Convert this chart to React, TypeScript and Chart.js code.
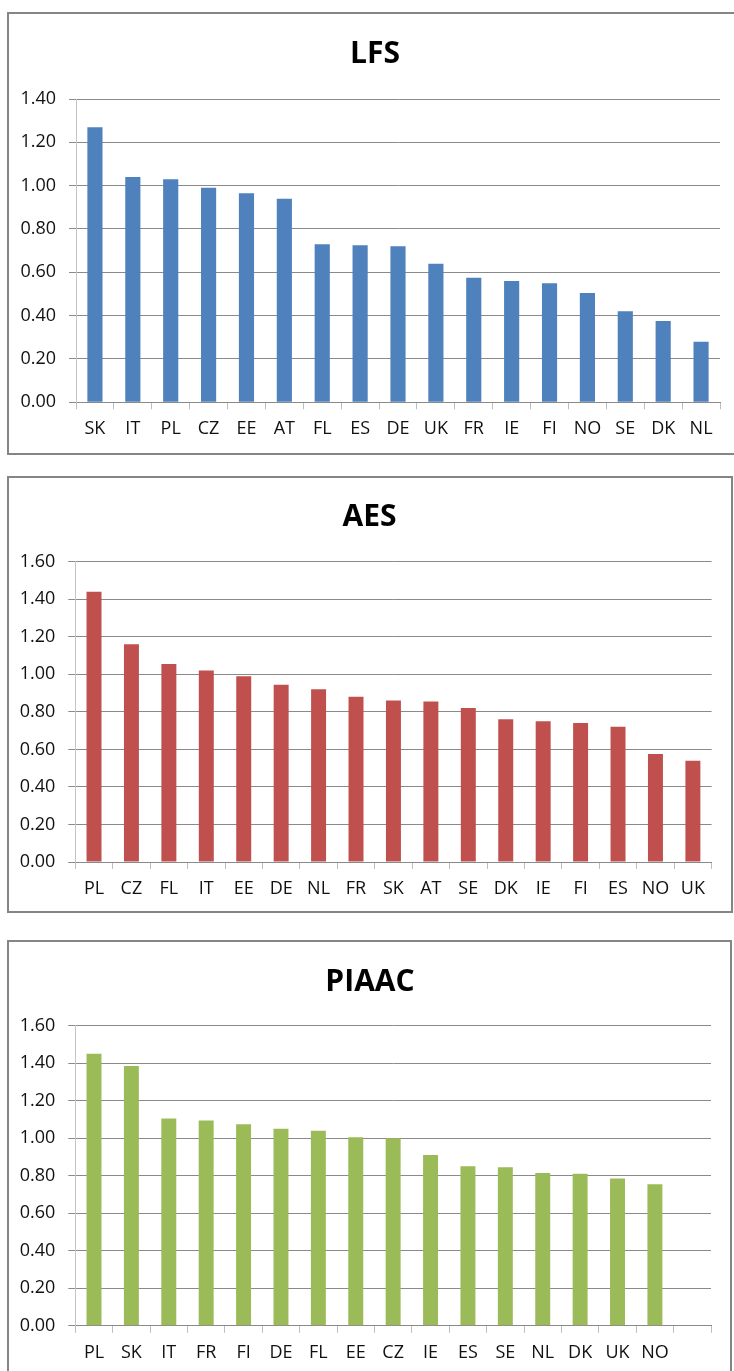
import React, { useEffect, useRef } from "react";
import { Chart, registerables } from "chart.js";

Chart.register(...registerables);
Chart.defaults.font.family = '"Open Sans", "Noto Sans", sans-serif';

// ---- Data ----
const lfsLabels = ["SK", "IT", "PL", "CZ", "EE", "AT", "FL", "ES", "DE", "UK", "FR", "IE", "FI", "NO", "SE", "DK", "NL"];
const lfsValues = [1.27, 1.04, 1.03, 0.99, 0.965, 0.94, 0.73, 0.725, 0.72, 0.64, 0.575, 0.56, 0.55, 0.505, 0.42, 0.375, 0.28];

const aesLabels = ["PL", "CZ", "FL", "IT", "EE", "DE", "NL", "FR", "SK", "AT", "SE", "DK", "IE", "FI", "ES", "NO", "UK"];
const aesValues = [1.44, 1.16, 1.055, 1.02, 0.99, 0.945, 0.92, 0.88, 0.86, 0.855, 0.82, 0.76, 0.75, 0.74, 0.72, 0.575, 0.54];

const piaacLabels = ["PL", "SK", "IT", "FR", "FI", "DE", "FL", "EE", "CZ", "IE", "ES", "SE", "NL", "DK", "UK", "NO", ""];
const piaacValues = [1.45, 1.385, 1.105, 1.095, 1.075, 1.05, 1.04, 1.005, 1.0, 0.91, 0.85, 0.845, 0.815, 0.81, 0.785, 0.755, null];

const lfsAxisMax = 1.4;
const aesAxisMax = 1.6;
const piaacAxisMax = 1.6;
const axisStep = 0.2;

// ---- Layout ----
const PAGE_W = 734;
const X_AXIS_H = 40;
const LABEL_SIZE = 18;

type Panel = {
  title: string;
  labels: string[];
  values: (number | null)[];
  color: string;
  yMax: number;
  box: { top: number; width: number; height: number };
  canvasTop: number;
  canvasHeight: number;
  plotTop: number;
  plotBottom: number;
  plotLeft: number;
  plotRight: number;
  titleX: number;
  titleY: number;
};

const panels: Panel[] = [
  {
    title: "LFS",
    labels: lfsLabels,
    values: lfsValues,
    color: "#4f81bd",
    yMax: lfsAxisMax,
    box: { top: 12, width: 740, height: 443 },
    canvasTop: 0,
    canvasHeight: 460,
    plotTop: 99,
    plotBottom: 402.3,
    plotLeft: 76,
    plotRight: 720,
    titleX: 375,
    titleY: 54,
  },
  {
    title: "AES",
    labels: aesLabels,
    values: aesValues,
    color: "#c0504d",
    yMax: aesAxisMax,
    box: { top: 476, width: 726, height: 437 },
    canvasTop: 470,
    canvasHeight: 450,
    plotTop: 561.7,
    plotBottom: 862,
    plotLeft: 75.3,
    plotRight: 711.6,
    titleX: 369.5,
    titleY: 517.5,
  },
  {
    title: "PIAAC",
    labels: piaacLabels,
    values: piaacValues,
    color: "#9bbb59",
    yMax: piaacAxisMax,
    box: { top: 940, width: 725, height: 440 },
    canvasTop: 930,
    canvasHeight: 441,
    plotTop: 1025.7,
    plotBottom: 1325.7,
    plotLeft: 75.3,
    plotRight: 711,
    titleX: 370,
    titleY: 982.5,
  },
];

// Draws the bold heading of each panel at a fixed spot
const panelTitle = {
  id: "panelTitle",
  afterDraw(chart: any, _args: any, opts: any) {
    const { ctx } = chart;
    ctx.save();
    ctx.font = 'bold 30px "Open Sans", sans-serif';
    ctx.fillStyle = "#000000";
    ctx.textAlign = "center";
    ctx.textBaseline = "middle";
    ctx.fillText(opts.text, opts.x, opts.y);
    ctx.restore();
  },
};

function BarPanel({ p }: { p: Panel }) {
  const ref = useRef<HTMLCanvasElement | null>(null);

  useEffect(() => {
    if (!ref.current) return;
    const plotLeft = p.plotLeft;
    const chart = new Chart(ref.current, {
      type: "bar",
      data: {
        labels: p.labels,
        datasets: [
          {
            data: p.values,
            backgroundColor: p.color,
            borderWidth: 0,
            barPercentage: 0.4,
            categoryPercentage: 1,
          },
        ],
      },
      plugins: [panelTitle],
      options: {
        animation: false,
        responsive: false,
        devicePixelRatio: 1,
        layout: {
          padding: {
            top: p.plotTop - p.canvasTop,
            bottom: p.canvasHeight - (p.plotBottom - p.canvasTop) - X_AXIS_H,
            left: 0,
            right: PAGE_W - p.plotRight,
          },
        },
        plugins: {
          legend: { display: false },
          tooltip: { enabled: false },
          title: { display: false },
          panelTitle: { text: p.title, x: p.titleX, y: p.titleY - p.canvasTop },
        } as any,
        scales: {
          x: {
            grid: {
              offset: true,
              drawOnChartArea: false,
              drawTicks: true,
              tickLength: 7,
              color: "#bdbdbd",
              tickColor: "#bdbdbd",
            },
            border: { display: true, color: "#8a8a8a" },
            ticks: {
              padding: 9,
              color: "#111111",
              font: { size: LABEL_SIZE },
              autoSkip: false,
              maxRotation: 0,
            },
            afterFit(scale: any) {
              scale.height = X_AXIS_H;
            },
          },
          y: {
            min: 0,
            max: p.yMax,
            ticks: {
              stepSize: axisStep,
              padding: 13,
              color: "#111111",
              font: { size: LABEL_SIZE },
              callback: (v: any) => Number(v).toFixed(2),
            },
            grid: {
              color: "#8a8a8a",
              tickLength: 7,
              tickColor: "#8a8a8a",
            },
            border: { display: true, color: "#c4c4c4" },
            afterFit(scale: any) {
              scale.width = plotLeft;
            },
          },
        },
      } as any,
    });
    return () => chart.destroy();
  }, [p]);

  return (
    <>
      <div
        style={{
          position: "absolute",
          left: 7,
          top: p.box.top,
          width: p.box.width,
          height: p.box.height,
          border: "2px solid #858585",
          boxSizing: "border-box",
        }}
      />
      <canvas
        ref={ref}
        width={PAGE_W}
        height={p.canvasHeight}
        style={{
          position: "absolute",
          left: 0,
          top: p.canvasTop,
          width: PAGE_W,
          height: p.canvasHeight,
        }}
      />
    </>
  );
}

export default function App() {
  return (
    <div
      style={{
        position: "absolute",
        left: 0,
        top: 0,
        width: PAGE_W,
        height: 1371,
        overflow: "hidden",
        background: "#ffffff",
      }}
    >
      {panels.map((p) => (
        <BarPanel key={p.title} p={p} />
      ))}
    </div>
  );
}
